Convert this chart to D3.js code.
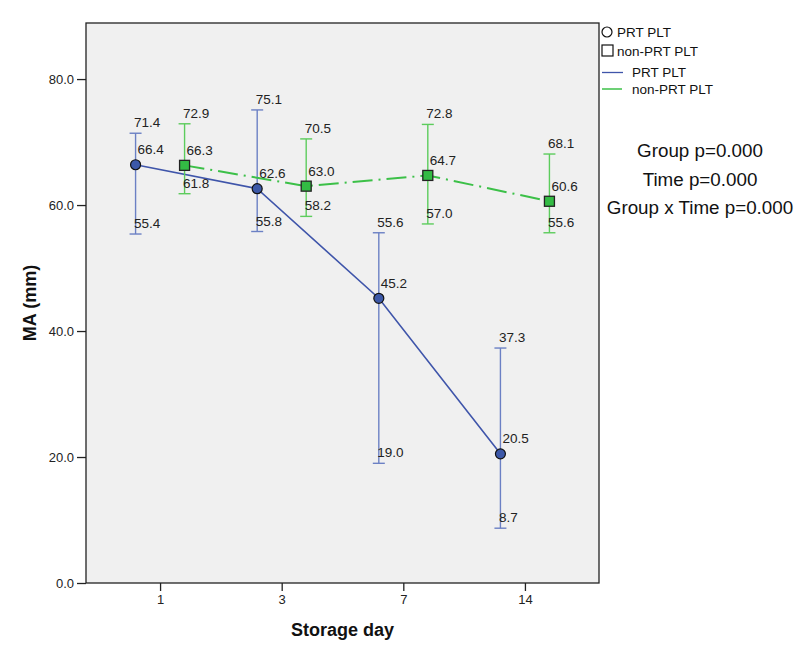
<!DOCTYPE html>
<html><head><meta charset="utf-8">
<script src="https://cdn.jsdelivr.net/npm/d3@7"></script>
<style>body{margin:0;background:#fff}svg{display:block;font-family:"Liberation Sans",Arial,sans-serif}</style>
</head><body><svg id="c" width="800" height="652"></svg>
<script>
const days = ["1","3","7","14"];
const yTicks = [0,20,40,60,80];
const prtMean = [66.4,62.6,45.2,20.5];
const prtUpper = [71.4,75.1,55.6,37.3];
const prtLower = [55.4,55.8,19.0,8.7];
const nonMean = [66.3,63.0,64.7,60.6];
const nonUpper = [72.9,70.5,72.8,68.1];
const nonLower = [61.8,58.2,57.0,55.6];
const legendNames = ["PRT PLT","non-PRT PLT"];
const statsText = ["Group p=0.000","Time p=0.000","Group x Time p=0.000"];

const svg = d3.select("#c");
const L=86,R=599,T=23,B=583;
const x = d3.scalePoint().domain(days).range([L,R]).padding(0.609);
const y = d3.scaleLinear().domain([0,88.9]).range([B,T]);
const off = 24.5;

svg.append("rect").attr("x",L).attr("y",T).attr("width",R-L).attr("height",B-T).attr("fill","#f0f0f0");

const series = [
  {mean:prtMean,up:prtUpper,lo:prtLower,dx:-off,line:"#3f55aa",bar:"#6b80c4",fill:"#3c58a8",shape:"circle",dash:null},
  {mean:nonMean,up:nonUpper,lo:nonLower,dx:off,line:"#3cc048",bar:"#5ccc5c",fill:"#33bb44",shape:"square",dash:"20,6,2,6"}
];

function txt(g,xx,yy,s){return g.append("text").attr("x",xx).attr("y",yy).style("font-size","13.5px").attr("fill","#222").text(s);}

series.forEach(s=>{
  const g = svg.append("g");
  const px = i=>x(days[i])+s.dx;
  days.forEach((d,i)=>{
    g.append("line").attr("x1",px(i)).attr("x2",px(i)).attr("y1",y(s.up[i])).attr("y2",y(s.lo[i])).attr("stroke",s.bar).attr("stroke-width",1.4);
    [s.up[i],s.lo[i]].forEach(v=>g.append("line").attr("x1",px(i)-6).attr("x2",px(i)+6).attr("y1",y(v)).attr("y2",y(v)).attr("stroke",s.bar).attr("stroke-width",1.4));
  });
  const ln = d3.line().x((v,i)=>px(i)).y(v=>y(v));
  const p = g.append("path").attr("d",ln(s.mean)).attr("fill","none").attr("stroke",s.line).attr("stroke-width",1.6);
  if(s.dash) p.attr("stroke-dasharray",s.dash).attr("stroke-width",2);
  s.mean.forEach((v,i)=>{
    if(s.shape==="circle") g.append("circle").attr("cx",px(i)).attr("cy",y(v)).attr("r",5).attr("fill",s.fill).attr("stroke","#111").attr("stroke-width",1.2);
    else g.append("rect").attr("x",px(i)-5).attr("y",y(v)-5).attr("width",10).attr("height",10).attr("fill",s.fill).attr("stroke","#222").attr("stroke-width",1.3);
  });
  days.forEach((d,i)=>{
    txt(g,px(i)-1.5,y(s.up[i])-6,s.up[i].toFixed(1));
    txt(g,px(i)+2,y(s.mean[i])-10.5,s.mean[i].toFixed(1));
    txt(g,px(i)-1.5,y(s.lo[i])-6,s.lo[i].toFixed(1));
  });
});

svg.append("rect").attr("x",L).attr("y",T).attr("width",R-L).attr("height",B-T).attr("fill","none").attr("stroke","#222").attr("stroke-width",1.3);

const ya = svg.append("g").attr("transform",`translate(${L},0)`).call(d3.axisLeft(y).tickValues(yTicks).tickFormat(d3.format(".1f")).tickSize(9).tickPadding(3));
ya.select(".domain").remove();
ya.selectAll("line").attr("stroke","#222").attr("stroke-width",1.3);
ya.selectAll("text").style("font-size","13px").attr("fill","#222").style("font-family","Liberation Sans, Arial, sans-serif");
const xa = svg.append("g").attr("transform",`translate(0,${B})`).call(d3.axisBottom(x).tickSize(8).tickPadding(4));
xa.select(".domain").remove();
xa.selectAll("line").attr("stroke","#222").attr("stroke-width",1.3);
xa.selectAll("text").style("font-size","13px").attr("fill","#222").style("font-family","Liberation Sans, Arial, sans-serif");

svg.append("text").attr("x",(L+R)/2).attr("y",636).attr("text-anchor","middle").style("font-size","18px").style("font-weight","bold").attr("fill","#111").text("Storage day");
svg.append("text").attr("transform",`translate(36,${(T+B)/2}) rotate(-90)`).attr("text-anchor","middle").style("font-size","18px").style("font-weight","bold").attr("fill","#111").text("MA (mm)");

const lg = svg.append("g");
lg.append("circle").attr("cx",607).attr("cy",32).attr("r",5).attr("fill","none").attr("stroke","#111").attr("stroke-width",1.2);
lg.append("rect").attr("x",602).attr("y",45).attr("width",11).attr("height",11).attr("fill","none").attr("stroke","#111").attr("stroke-width",1.2);
lg.append("text").attr("x",617).attr("y",37).style("font-size","13.5px").attr("fill","#111").text(legendNames[0]);
lg.append("text").attr("x",617).attr("y",56).style("font-size","13.5px").attr("fill","#111").text(legendNames[1]);
lg.append("line").attr("x1",602).attr("x2",623).attr("y1",72.5).attr("y2",72.5).attr("stroke","#3f55aa").attr("stroke-width",1.3);
lg.append("line").attr("x1",602).attr("x2",625).attr("y1",89).attr("y2",89).attr("stroke","#3cc048").attr("stroke-width",1.5).attr("stroke-dasharray","20,3,1,3");
lg.append("text").attr("x",632).attr("y",77).style("font-size","13.5px").attr("fill","#111").text(legendNames[0]);
lg.append("text").attr("x",632).attr("y",94).style("font-size","13.5px").attr("fill","#111").text(legendNames[1]);

statsText.forEach((s,i)=>svg.append("text").attr("x",700).attr("y",157+i*28.5).attr("text-anchor","middle").style("font-size","18.8px").attr("fill","#111").text(s));
</script></body></html>
